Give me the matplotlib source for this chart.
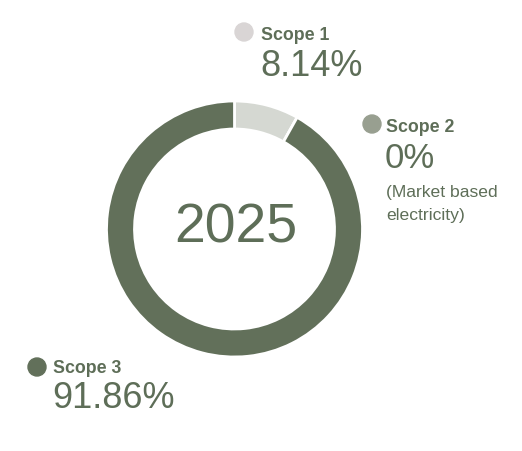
import matplotlib.pyplot as plt
from matplotlib.patches import Circle

# chart data
labels = ['Scope 1', 'Scope 2', 'Scope 3']
shares = [8.14, 0.0, 91.86]
value_text = ['8.14%', '0%', '91.86%']
ring_colors = ['#D5D8D2', '#989F90', '#62705A']
dot_colors = ['#D9D5D5', '#989F90', '#62705A']
year = '2025'

txt = '#5E6E58'
W, H = 522, 452

plt.rcParams['font.family'] = ['Liberation Sans', 'DejaVu Sans']
fig = plt.figure(figsize=(W / 100, H / 100), dpi=100)
ax = fig.add_axes([0, 0, 1, 1])

def py(y):
    return H - y

ax.pie(shares, colors=ring_colors, startangle=90, counterclock=False,
       center=(234.5, py(230)), radius=128, frame=True,
       wedgeprops=dict(width=28, edgecolor='white', linewidth=2))
ax.set_xlim(0, W)
ax.set_ylim(0, H)
ax.set_aspect('equal')
ax.axis('off')

ax.text(236, py(229), year, ha='center', va='center', fontsize=40, color=txt)

# label blocks: dot centre, text x, name y, value y, value size
blocks = [
    ((244, 33), 261, 36, 66, 26),
    ((372, 125), 386, 128, 158, 25),
    ((37, 368), 53, 369, 399, 26),
]
for i, (dot, tx, ny, vy, vs) in enumerate(blocks):
    ax.add_patch(Circle((dot[0], py(dot[1])), 9, color=dot_colors[i], zorder=3))
    ax.text(tx, py(ny), labels[i], ha='left', va='center', fontsize=12.8,
            fontweight='bold', color=txt)
    ax.text(tx - 1, py(vy), value_text[i], ha='left', va='center',
            fontsize=vs, color=txt)

ax.text(386, py(193), '(Market based', ha='left', va='center', fontsize=12.6, color=txt)
ax.text(386, py(216), 'electricity)', ha='left', va='center', fontsize=12.6, color=txt)

fig.savefig('out.png', dpi=100)
